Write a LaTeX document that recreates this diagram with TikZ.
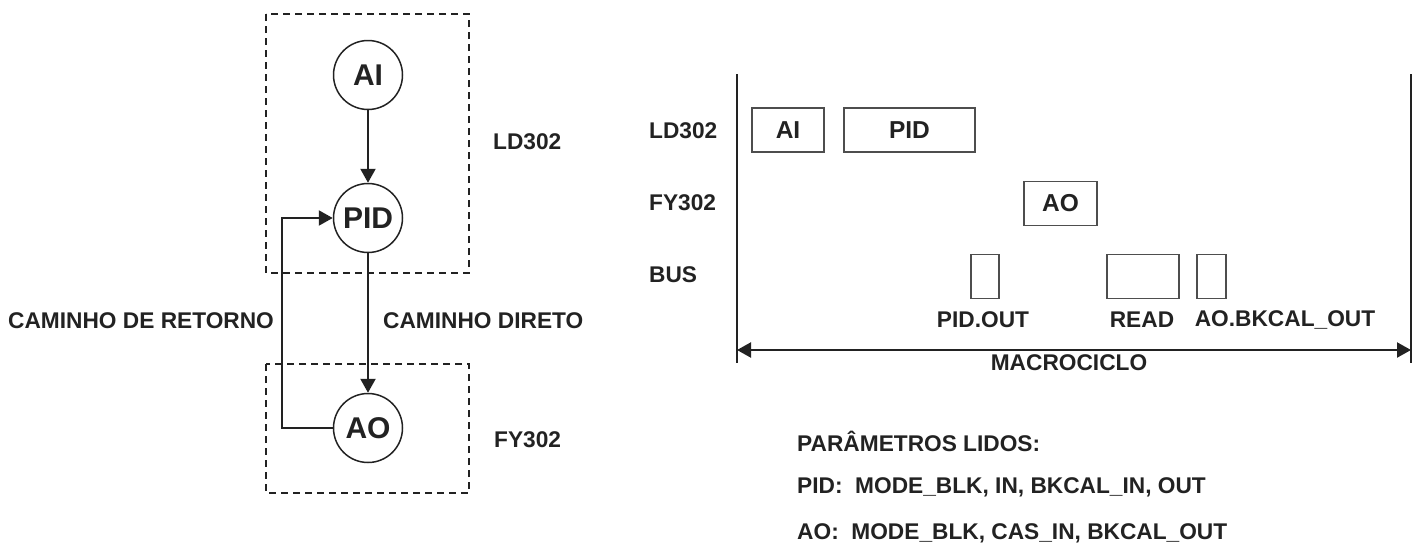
\documentclass[tikz,border=0pt]{standalone}
\usepackage{fontspec}
\setmainfont{Liberation Sans}
\usetikzlibrary{arrows.meta}
\definecolor{ink}{HTML}{222222}
\begin{document}
\begin{tikzpicture}[x=1pt,y=-1pt,
  every node/.style={text=ink,font=\fontsize{22.7}{26}\selectfont\bfseries},
  blk/.style={draw=ink,line width=1.5pt,circle,minimum size=69pt,inner sep=0pt,font=\fontsize{30}{33}\selectfont\bfseries},
  grp/.style={draw=ink,line width=1.5pt,dash pattern=on 7pt off 5pt},
  conn/.style={draw=ink,line width=2.2pt},
  arr/.style={conn,-{Triangle[length=14pt,width=15pt]}},
  slot/.style={draw=ink!80,line width=1.4pt,inner sep=0pt,minimum height=44pt,font=\fontsize{24.5}{28}\selectfont\bfseries},
  lbl/.style={anchor=west,inner sep=0pt}]
\useasboundingbox (0,0) rectangle (1418,552);
% left: block diagram
\draw[grp] (266,14) rectangle (469,273);
\draw[grp] (266,364) rectangle (469,493);
\node[blk] (ai) at (368,75) {AI};
\node[blk] (pid) at (368,218) {PID};
\node[blk] (ao) at (368,428) {AO};
\coordinate (fb) at (282,428);
\draw[arr] (ai) -- (pid);
\draw[arr] (pid) -- (ao);
\draw[arr] (ao.west) -- (fb) |- (pid.west);
\node[lbl] (ld) at (493,142) {LD302};
\node[lbl] (fy) at (494,440) {FY302};
\node[lbl] (ret) at (8,321) {CAMINHO DE RETORNO};
\node[lbl] (dir) at (383,321) {CAMINHO DIRETO};
% right: schedule
\coordinate (lt) at (737,74); \coordinate (lb) at (737,363);
\coordinate (rt) at (1411,74); \coordinate (rb) at (1411,363);
\draw[conn] (lt) -- (lb);
\draw[conn] (rt) -- (rb);
\coordinate (al) at (737,350); \coordinate (ar) at (1411,350);
\draw[conn,{Triangle[length=14pt,width=15pt]}-{Triangle[length=14pt,width=15pt]}] (al) -- (ar);
\node[lbl] (rld) at (649,131) {LD302};
\node[lbl] (rfy) at (649,203) {FY302};
\node[lbl] (rbus) at (649,275) {BUS};
\node[slot,minimum width=72pt] (sai) at (788,130) {AI};
\node[slot,minimum width=131pt] (spid) at (909.5,130) {PID};
\node[slot,minimum width=73pt] (sao) at (1060.5,203.5) {AO};
\node[slot,minimum width=28pt] (b1) at (985,276.5) {};
\node[slot,minimum width=72pt] (b2) at (1143,276.5) {};
\node[slot,minimum width=29pt] (b3) at (1211.5,276.5) {};
\node (t1) at (983,320) {PID.OUT};
\node (t2) at (1142,320) {READ};
\node (t3) at (1285,320) {AO.BKCAL\_OUT};
\node (mc) at (1069,363) {MACROCICLO};
\node[lbl] (p0) at (797,441) {PARÂMETROS LIDOS:};
\node[lbl] (p1) at (797,487) {PID:\ \ MODE\_BLK, IN, BKCAL\_IN, OUT};
\node[lbl] (p2) at (797,533) {AO:\ \ MODE\_BLK, CAS\_IN, BKCAL\_OUT};
\end{tikzpicture}
\end{document}
